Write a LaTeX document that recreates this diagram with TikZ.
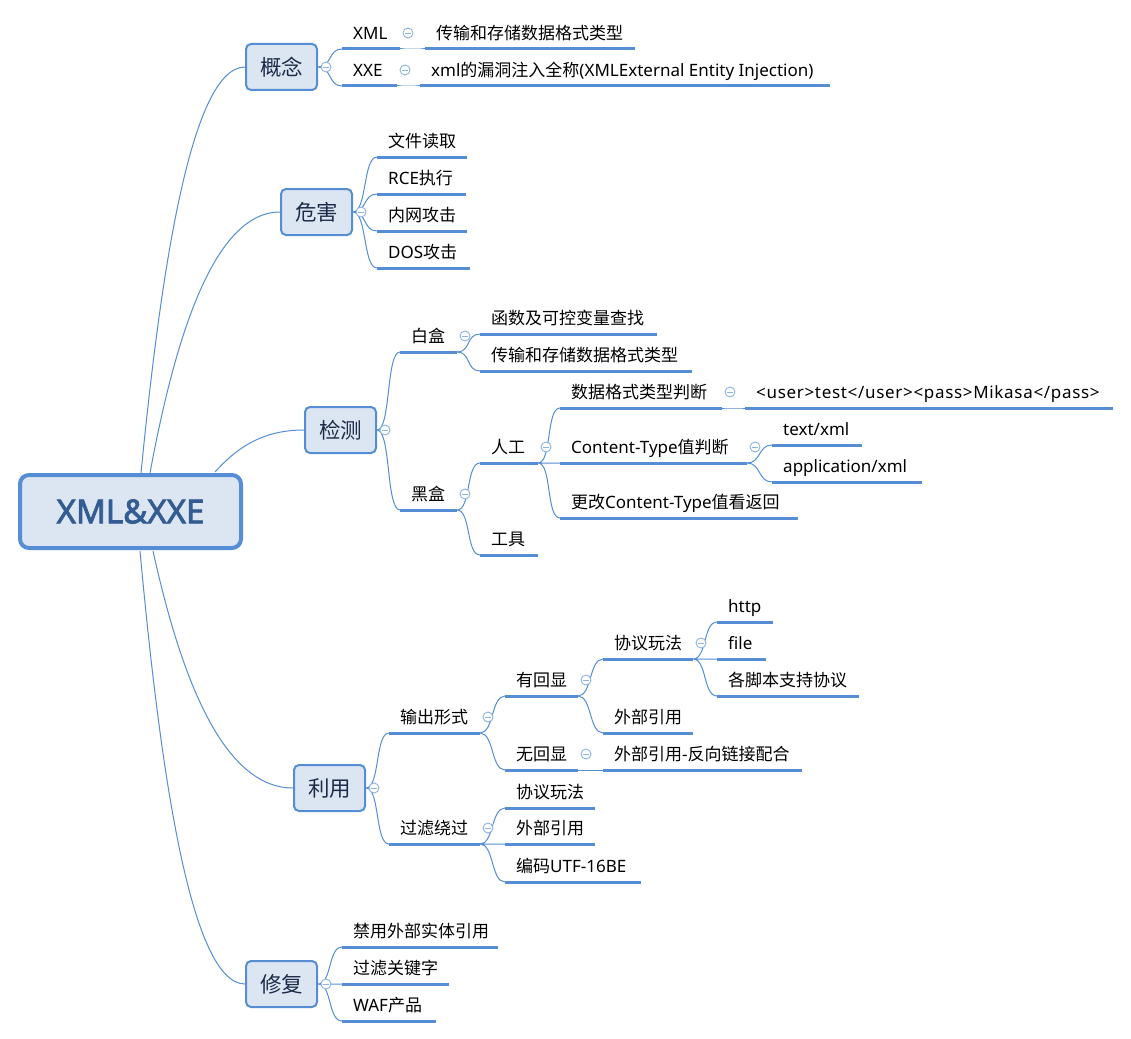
\documentclass[tikz,border=0pt]{standalone}
\usepackage{fontspec}
\setmainfont{Noto Sans CJK SC}
\newfontfamily\lat{Noto Sans}
\newfontfamily\rootfont[FakeBold=2.5]{Noto Sans}
\newfontfamily\latsp[LetterSpace=4]{Noto Sans}
\definecolor{lineblue}{HTML}{558ED5}
\definecolor{boxfill}{HTML}{DCE6F2}
\definecolor{roottext}{HTML}{335D92}
\definecolor{ltext}{HTML}{1C2B48}
\definecolor{markblue}{HTML}{8DB3E2}
\tikzset{
  rootbox/.style={draw=lineblue, fill=boxfill, line width=4pt, rounded corners=9pt,
    minimum width=221pt, minimum height=73pt, inner sep=0pt,
    font=\fontsize{33}{38}\selectfont\rootfont, text=roottext},
  lonebox/.style={draw=lineblue, fill=boxfill, line width=2pt, rounded corners=5pt,
    minimum width=71pt, minimum height=46pt, inner sep=0pt,
    font=\fontsize{21.5}{24}\selectfont, text=ltext},
  uline/.style={draw=lineblue, line width=3pt},
  conn/.style={draw=lineblue, line width=1pt},
  brk/.style={out=0, in=180, distance=14pt},
  subtxt/.style={font=\fontsize{17}{20}\selectfont, inner sep=0pt, anchor=base west, text=black},
  collapsemark/.style={circle, draw=markblue, fill=white, line width=0.9pt,
    minimum size=10pt, inner sep=0pt,
    path picture={\draw[markblue, line width=0.9pt]
      ([xshift=-2.8pt]path picture bounding box.center) --
      ([xshift=2.8pt]path picture bounding box.center);}}
}
\newcommand\subtopic[5]{%
  \coordinate (#1-w) at (#2,#4);
  \coordinate (#1-e) at (#3,#4);
  \draw[uline] (#1-w) -- (#1-e);
  \node[subtxt] (#1) at ({#2+11},{#4-9.5}) {#5};
}
\newcommand\submark[3]{%
  \node[collapsemark] (#1-m) at ({#2+8},{#3-16}) {};
}
\begin{document}
\begin{tikzpicture}[x=1pt, y=-1pt]
\useasboundingbox (0,0) rectangle (1131,1038);
\fill[white] (0,0) rectangle (1131,1038);

% root
\node[rootbox] (root) at (130.5,511.5) {XML\&XXE};
\coordinate (ra) at (141,473);
\coordinate (rb) at (150,473);
\coordinate (rc) at (215,472);
\coordinate (rd) at (153,551);
\coordinate (re) at (140,551);

% main topics
\node[lonebox] (gn) at (281.5,67) {概念};
\node[lonebox] (wh) at (316.5,212) {危害};
\node[lonebox] (jc) at (340.5,430) {检测};
\node[lonebox] (ly) at (329.5,788) {利用};
\node[lonebox] (xf) at (281.5,984) {修复};

\draw[conn] (ra) .. controls (160,280) and (190,67) .. (gn.west);
\draw[conn] (rb) .. controls (173,349) and (211,212) .. (wh.west);
\draw[conn] (rc) .. controls (235,450) and (260,430) .. (jc.west);
\draw[conn] (rd) .. controls (178,664) and (219,788) .. (ly.west);
\draw[conn] (re) .. controls (159,757) and (189,984) .. (xf.west);

% 概念
\subtopic{xml}{342}{400}{49}{{\lat XML}}
\subtopic{xmlD}{425}{635}{49}{传输和存储数据格式类型}
\subtopic{xxe}{342}{397}{86}{{\lat XXE}}
\subtopic{xxeD}{420}{830}{86}{{\lat xml}的漏洞注入全称{\lat (XMLExternal Entity Injection)}}

% 危害
\subtopic{h1}{377}{467}{157}{文件读取}
\subtopic{h2}{377}{466}{194}{{\lat RCE}执行}
\subtopic{h3}{377}{467}{231}{内网攻击}
\subtopic{h4}{377}{470}{268}{{\lat DOS}攻击}

% 检测
\subtopic{bai}{400}{457}{352}{白盒}
\subtopic{bai1}{480}{657}{334}{函数及可控变量查找}
\subtopic{bai2}{480}{692}{371}{传输和存储数据格式类型}
\subtopic{hei}{400}{457}{510}{黑盒}
\subtopic{rg}{480}{538}{463}{人工}
\subtopic{gj}{480}{538}{555}{工具}
\subtopic{rg1}{560}{722}{408}{数据格式类型判断}
\subtopic{rg1a}{745}{1113}{408}{{\latsp <user>test</user><pass>Mikasa</pass>}}
\subtopic{rg2}{560}{747}{463}{{\lat Content-Type}值判断}
\subtopic{rg2a}{772}{862}{445}{{\lat text/xml}}
\subtopic{rg2b}{772}{922}{482}{{\lat application/xml}}
\subtopic{rg3}{560}{798}{518}{更改{\lat Content-Type}值看返回}

% 利用
\subtopic{sc}{389}{480}{733}{输出形式}
\subtopic{yhx}{505}{578}{696}{有回显}
\subtopic{xy}{603}{693}{659}{协议玩法}
\subtopic{http}{717}{773}{622}{{\lat http}}
\subtopic{file}{717}{766}{659}{{\lat file}}
\subtopic{gjb}{717}{859}{696}{各脚本支持协议}
\subtopic{wb}{603}{693}{733}{外部引用}
\subtopic{whx}{505}{578}{770}{无回显}
\subtopic{wbfx}{603}{802}{770}{外部引用{\lat -}反向链接配合}
\subtopic{gl}{389}{480}{844}{过滤绕过}
\subtopic{gl1}{505}{595}{808}{协议玩法}
\subtopic{gl2}{505}{595}{844}{外部引用}
\subtopic{gl3}{505}{641}{882}{编码{\lat UTF-16BE}}

% 修复
\subtopic{f1}{342}{498}{947}{禁用外部实体引用}
\subtopic{f2}{342}{449}{984}{过滤关键字}
\subtopic{f3}{342}{436}{1021}{{\lat WAF}产品}

% connectors
\draw[conn] (gn.east) to[brk] (xml-w) (gn.east) to[brk] (xxe-w);
\draw[conn] (xml-e) to[brk] (xmlD-w) (xxe-e) to[brk] (xxeD-w);
\draw[conn] (wh.east) to[brk] (h1-w) (wh.east) to[brk] (h2-w)
  (wh.east) to[brk] (h3-w) (wh.east) to[brk] (h4-w);
\draw[conn] (jc.east) to[brk] (bai-w) (jc.east) to[brk] (hei-w);
\draw[conn] (bai-e) to[brk] (bai1-w) (bai-e) to[brk] (bai2-w);
\draw[conn] (hei-e) to[brk] (rg-w) (hei-e) to[brk] (gj-w);
\draw[conn] (rg-e) to[brk] (rg1-w) (rg-e) to[brk] (rg2-w) (rg-e) to[brk] (rg3-w);
\draw[conn] (rg1-e) to[brk] (rg1a-w);
\draw[conn] (rg2-e) to[brk] (rg2a-w) (rg2-e) to[brk] (rg2b-w);
\draw[conn] (ly.east) to[brk] (sc-w) (ly.east) to[brk] (gl-w);
\draw[conn] (sc-e) to[brk] (yhx-w) (sc-e) to[brk] (whx-w);
\draw[conn] (yhx-e) to[brk] (xy-w) (yhx-e) to[brk] (wb-w);
\draw[conn] (xy-e) to[brk] (http-w) (xy-e) to[brk] (file-w) (xy-e) to[brk] (gjb-w);
\draw[conn] (whx-e) to[brk] (wbfx-w);
\draw[conn] (gl-e) to[brk] (gl1-w) (gl-e) to[brk] (gl2-w) (gl-e) to[brk] (gl3-w);
\draw[conn] (xf.east) to[brk] (f1-w) (xf.east) to[brk] (f2-w) (xf.east) to[brk] (f3-w);

% collapse marks
\foreach \b in {gn,wh,jc,ly,xf}
  \node[collapsemark] (\b-m) at ([xshift=8pt]\b.east) {};
\submark{xml}{400}{49}
\submark{xxe}{397}{86}
\submark{bai}{457}{352}
\submark{hei}{457}{510}
\submark{rg}{538}{463}
\submark{rg1}{722}{408}
\submark{rg2}{747}{463}
\submark{sc}{480}{733}
\submark{yhx}{578}{696}
\submark{xy}{693}{659}
\submark{whx}{578}{770}
\submark{gl}{480}{844}
\end{tikzpicture}
\end{document}
